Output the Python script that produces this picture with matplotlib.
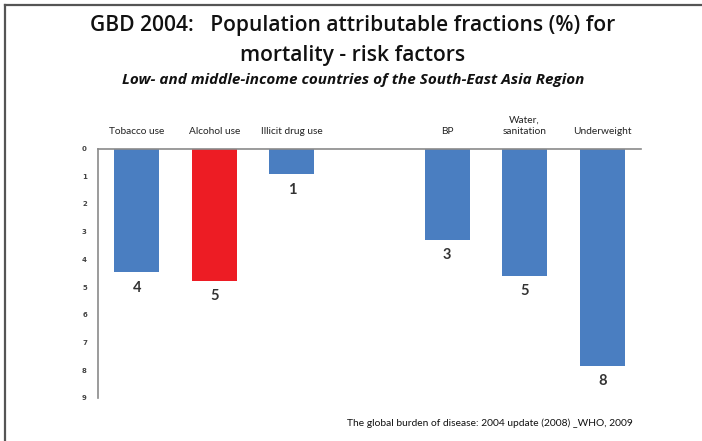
import matplotlib
matplotlib.use("Agg")
import matplotlib.pyplot as plt
from matplotlib.lines import Line2D

categories = ["Tobacco use", "Alcohol use", "Illicit drug use", "", "BP", "Water,\nsanitation", "Underweight"]
values = [4.47, 4.77, 0.93, 0, 3.30, 4.60, 7.85]
value_labels = ["4", "5", "1", "", "3", "5", "8"]
bar_colors = ["#4A7EC1", "#ED1C24", "#4A7EC1", "none", "#4A7EC1", "#4A7EC1", "#4A7EC1"]
y_ticks = list(range(0, 10))

W, H = 702, 441
fig = plt.figure(figsize=(W / 100, H / 100), dpi=100)
fig.patch.set_facecolor("white")

# frame lines (left and top)
fig.add_artist(Line2D([5 / W, 5 / W], [0, 1 - 5 / H], color="#555555", lw=1.6))
fig.add_artist(Line2D([5 / W, 1], [1 - 5 / H, 1 - 5 / H], color="#555555", lw=1.6))

left, right = 98 / W, 641 / W
top, bottom = 1 - 148.5 / H, 1 - 398 / H
ax = fig.add_axes([left, bottom, right - left, top - bottom])

x = list(range(len(categories)))
bars = ax.bar(x, values, width=0.58, color=bar_colors, zorder=2)
ax.set_xlim(-0.5, len(categories) - 0.5)
ax.set_ylim(9, 0)

for xi, v, lab in zip(x, values, value_labels):
    if lab:
        ax.annotate(lab, (xi, v), xytext=(0, -6), textcoords="offset points",
                    ha="center", va="top", fontsize=10.5, fontweight="bold",
                    color="#333333", family="Lato")

ax.xaxis.tick_top()
ax.set_xticks(x)
ax.set_xticklabels(categories, fontsize=7.3, color="#222222", family="Lato",
                   linespacing=1.3)
ax.tick_params(axis="x", length=0, pad=9)
ax.set_yticks(y_ticks)
ax.set_yticklabels([str(t) for t in y_ticks], fontsize=5, fontweight="bold",
                   color="#444444")
ax.tick_params(axis="y", length=0, pad=8)

for s in ["bottom", "right"]:
    ax.spines[s].set_visible(False)
for s in ["left", "top"]:
    ax.spines[s].set_color("#8a8a8a")
    ax.spines[s].set_linewidth(1.2)

cx = 353 / W
fig.text(cx, 1 - 26 / H, "GBD 2004:   Population attributable fractions (%) for",
         ha="center", va="center", fontsize=15.1, fontweight="semibold", family="Open Sans",
         color="#111111")
fig.text(cx, 1 - 56 / H, "mortality - risk factors",
         ha="center", va="center", fontsize=15.1, fontweight="semibold", family="Open Sans",
         color="#111111")
fig.text(cx, 1 - 80 / H, "Low- and middle-income countries of the South-East Asia Region",
         ha="center", va="center", fontsize=10.95, fontweight="bold", style="italic",
         family="Open Sans", color="#111111")
fig.text(633 / W, 1 - 423 / H, "The global burden of disease: 2004 update (2008) _WHO, 2009",
         ha="right", va="center", fontsize=7.4, family="Lato", color="#111111")

fig.savefig("out.png", dpi=100, facecolor="white")
